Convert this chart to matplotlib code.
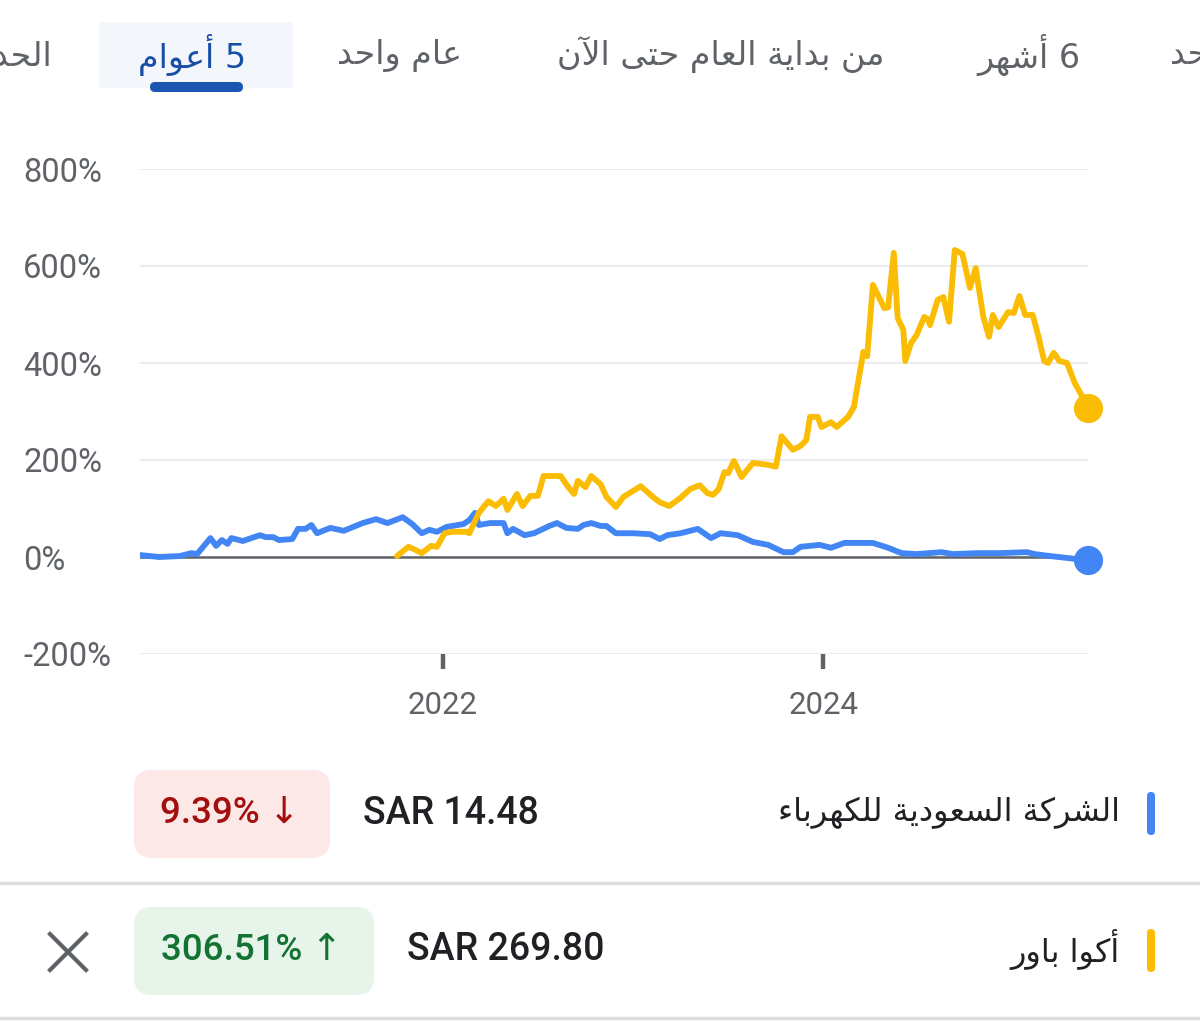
import matplotlib
matplotlib.use("Agg")
import matplotlib.pyplot as plt
from matplotlib.patches import FancyBboxPatch, Rectangle

# ---- data ----
# السعودية للكهرباء, % change vs start of period
sec_year = [2020.41, 2020.51, 2020.62, 2020.68, 2020.71, 2020.78, 2020.81, 2020.84, 2020.87, 2020.89,
            2020.95, 2021.04, 2021.07, 2021.11, 2021.14, 2021.21, 2021.24, 2021.28, 2021.31, 2021.34,
            2021.41, 2021.48, 2021.58, 2021.65, 2021.71, 2021.79, 2021.84, 2021.89, 2021.93, 2021.97,
            2022.02, 2022.11, 2022.14, 2022.17, 2022.19, 2022.25, 2022.32, 2022.34, 2022.37, 2022.43,
            2022.48, 2022.56, 2022.60, 2022.65, 2022.71, 2022.74, 2022.78, 2022.83, 2022.86, 2022.91,
            2023.00, 2023.09, 2023.14, 2023.18, 2023.25, 2023.34, 2023.41, 2023.46, 2023.55, 2023.63,
            2023.71, 2023.79, 2023.84, 2023.88, 2023.98, 2024.04, 2024.11, 2024.26, 2024.34, 2024.41,
            2024.49, 2024.62, 2024.68, 2024.81, 2024.93, 2025.07, 2025.11, 2025.19, 2025.28, 2025.39]
sec_pct = [4, 0, 2, 8, 6, 39, 23, 35, 27, 39,
           33, 45, 41, 41, 35, 37, 58, 58, 66, 49,
           60, 54, 70, 78, 70, 82, 68, 49, 56, 52,
           62, 68, 76, 91, 66, 70, 70, 49, 58, 45,
           49, 64, 70, 60, 58, 66, 70, 64, 64, 49,
           49, 47, 37, 45, 49, 58, 39, 49, 45, 31,
           25, 10, 10, 21, 25, 19, 29, 29, 19, 8,
           6, 10, 6, 8, 8, 10, 6, 2, -2, -7]

# أكوا باور
acwa_year = [2021.76, 2021.82, 2021.85, 2021.89, 2021.94, 2021.97, 2022.01, 2022.05, 2022.13, 2022.14,
             2022.19, 2022.24, 2022.28, 2022.32, 2022.34, 2022.39, 2022.42, 2022.46, 2022.50, 2022.53,
             2022.62, 2022.66, 2022.69, 2022.71, 2022.75, 2022.78, 2022.83, 2022.86, 2022.91, 2022.95,
             2023.04, 2023.11, 2023.14, 2023.19, 2023.25, 2023.30, 2023.35, 2023.39, 2023.42, 2023.45,
             2023.48, 2023.50, 2023.53, 2023.57, 2023.63, 2023.71, 2023.75, 2023.78, 2023.84, 2023.88,
             2023.91, 2023.93, 2023.97, 2023.99, 2024.04, 2024.07, 2024.13, 2024.16, 2024.21, 2024.23,
             2024.26, 2024.32, 2024.34, 2024.37, 2024.39, 2024.42, 2024.43, 2024.46, 2024.49, 2024.53,
             2024.55, 2024.56, 2024.60, 2024.63, 2024.66, 2024.69, 2024.73, 2024.77, 2024.80, 2024.84,
             2024.87, 2024.89, 2024.92, 2024.97, 2025.00, 2025.03, 2025.06, 2025.10, 2025.13, 2025.16,
             2025.18, 2025.21, 2025.24, 2025.28, 2025.32, 2025.35, 2025.39]
acwa_pct = [2, 21, 16, 8, 23, 21, 49, 52, 52, 49,
            91, 115, 105, 120, 97, 130, 105, 126, 126, 167,
            167, 144, 130, 157, 144, 167, 150, 124, 103, 124,
            146, 122, 113, 105, 122, 140, 148, 132, 128, 140,
            175, 173, 198, 165, 194, 190, 186, 249, 221, 229,
            241, 289, 289, 268, 278, 268, 289, 309, 423, 414,
            561, 513, 515, 627, 493, 468, 404, 441, 458, 495,
            490, 478, 530, 536, 485, 633, 625, 555, 596, 495,
            454, 499, 474, 505, 503, 538, 499, 499, 454, 404,
            400, 421, 404, 400, 359, 338, 307]

y_ticks = [-200, 0, 200, 400, 600, 800]
x_ticks = [2022, 2024]
tabs = ["شهر واحد", "6 أشهر", "من بداية العام حتى الآن", "عام واحد", "5 أعوام", "الحد الأقصى"]
names = ["الشركة السعودية للكهرباء", "أكوا باور"]
prices = ["SAR 14.48", "SAR 269.80"]
changes = ["9.39% ↓", "306.51% ↑"]

BLUE = "#4285f4"
YELLOW = "#fbbc04"
GREY = "#5f6368"

# ---- minimal arabic shaping (matplotlib has no bidi/shaping) ----
DUAL = {'ب': 0xFE8F, 'ت': 0xFE95, 'ح': 0xFEA1, 'س': 0xFEB1, 'ش': 0xFEB5, 'ص': 0xFEB9,
        'ع': 0xFEC9, 'ق': 0xFED5, 'ك': 0xFED9, 'ل': 0xFEDD, 'م': 0xFEE1, 'ن': 0xFEE5,
        'ه': 0xFEE9, 'ي': 0xFEF1}
RIGHT = {'آ': 0xFE81, 'أ': 0xFE83, 'ا': 0xFE8D, 'ة': 0xFE93, 'د': 0xFEA9, 'ر': 0xFEAD,
         'و': 0xFEED, 'ى': 0xFEEF}
LAMALEF = {'ا': 0xFEFB, 'أ': 0xFEF7, 'آ': 0xFEF5}


def ar(text):
    ch = list(text)
    out = []
    i = 0
    while i < len(ch):
        c = ch[i]
        prev = i > 0 and ch[i - 1] in DUAL
        if c == 'ل' and i + 1 < len(ch) and ch[i + 1] in LAMALEF:
            out.append(chr(LAMALEF[ch[i + 1]] + (1 if prev else 0)))
            i += 2
            continue
        if c in DUAL:
            nxt = i + 1 < len(ch) and (ch[i + 1] in DUAL or ch[i + 1] in RIGHT)
            f = 3 if (prev and nxt) else 1 if prev else 2 if nxt else 0
            out.append(chr(DUAL[c] + f))
        elif c in RIGHT:
            out.append(chr(RIGHT[c] + (1 if prev else 0)))
        elif c == 'ء':
            out.append(chr(0xFE80))
        else:
            out.append(c)
        i += 1
    return ''.join(out)[::-1]


plt.rcParams['font.family'] = ['Roboto', 'DejaVu Sans']

fig = plt.figure(figsize=(12, 10.24), dpi=100)

# overlay in pixel units for the page furniture
ui = fig.add_axes([0, 0, 1, 1])
ui.set_xlim(0, 1200)
ui.set_ylim(1024, 0)
ui.axis('off')

# tabs (the outer two are cut by the screen edge, as in the screenshot)
ui.add_patch(Rectangle((99, 22), 194, 66, color="#f3f7fc", lw=0))
ui.add_patch(FancyBboxPatch((150, 82), 93, 10, boxstyle="round,pad=0,rounding_size=5",
                            color="#1a56b0", lw=0))
tab_x = [1170, 1080, 884, 462, 246, 52]
for t, x in zip(tabs, tab_x):
    ha = 'left' if x == 1170 else 'right'
    col = "#174ea6" if t == "5 أعوام" else GREY
    ui.text(x, 55, ar(t), ha=ha, va='center', fontsize=24, color=col,
            family=['DejaVu Sans'])

# legend rows
row_y = [813, 950]
box_w = [196, 240]
box_fc = ["#fce8e6", "#e6f4ea"]
chg_col = ["#a50e0e", "#137333"]
price_x = [363, 407]
bar_col = [BLUE, YELLOW]
for i in range(2):
    y = row_y[i]
    ui.add_patch(FancyBboxPatch((134, y - 43), box_w[i], 88,
                                boxstyle="round,pad=0,rounding_size=18",
                                color=box_fc[i], lw=0))
    ui.text(134 + box_w[i] / 2 - 2, y, changes[i], ha='center', va='center',
            fontsize=26.5, color=chg_col[i], weight='medium',
            family=['Roboto', 'DejaVu Sans'])
    ui.text(price_x[i], y, prices[i], ha='left', va='center', fontsize=27,
            color="#202124", weight='medium')
    ui.text(1120, y, ar(names[i]), ha='right', va='center', fontsize=23,
            color="#202124", family=['DejaVu Sans'])
    ui.add_patch(FancyBboxPatch((1147, y - 21), 8, 43, boxstyle="round,pad=0,rounding_size=4",
                                color=bar_col[i], lw=0))

ui.plot([0, 1200], [883, 883], color="#dadce0", lw=2.5)
ui.plot([0, 1200], [1018, 1018], color="#dadce0", lw=2.5)
ui.plot([50, 86], [934, 970], color=GREY, lw=3)
ui.plot([86, 50], [934, 970], color=GREY, lw=3)

# ---- chart ----
ax = fig.add_axes([140 / 1200, 1 - 654 / 1024, 948 / 1200, 485 / 1024])
ax.set_facecolor('none')
ax.set_xlim(sec_year[0], sec_year[-1])
ax.set_ylim(-200, 800)
for s in ax.spines.values():
    s.set_visible(False)

ax.grid(axis='y', color="#ececec", lw=1.5, zorder=0)
ax.axhline(0, color=GREY, lw=1.8, zorder=2)

ax.plot(sec_year, sec_pct, color=BLUE, lw=4.2, zorder=3,
        solid_joinstyle='round', solid_capstyle='round')
ax.plot(acwa_year, acwa_pct, color=YELLOW, lw=4.2, zorder=4,
        solid_joinstyle='round', solid_capstyle='round')
ax.plot(sec_year[-1], sec_pct[-1], 'o', ms=20, color=BLUE, zorder=5, clip_on=False)
ax.plot(acwa_year[-1], acwa_pct[-1], 'o', ms=20, color=YELLOW, zorder=5, clip_on=False)

ax.set_yticks(y_ticks)
ax.set_yticklabels([f"{v}%" for v in y_ticks])
ax.tick_params(axis='y', length=0, pad=84, labelsize=23.5, labelcolor=GREY)
for lbl in ax.get_yticklabels():
    lbl.set_ha('left')

ax.set_xticks(x_ticks)
ax.set_xticklabels([str(v) for v in x_ticks])
ax.tick_params(axis='x', length=11, width=3.2, color=GREY, pad=16,
               labelsize=22.5, labelcolor=GREY)

fig.savefig("out.png", dpi=100)
